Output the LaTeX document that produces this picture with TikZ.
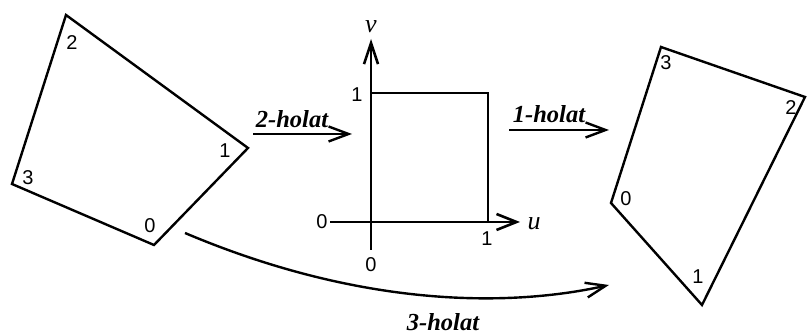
\documentclass[tikz,border=0pt]{standalone}
\usepackage{fontspec}
\setmainfont{Liberation Serif}
\newfontfamily\arialfont{Liberation Sans}
\usetikzlibrary{arrows.meta}
\tikzset{
  quad/.style={draw, line width=2.4pt, line join=miter},
  lbl/.style={inner sep=0pt, font=\arialfont\fontsize{20}{20}\selectfont},
  holat/.style={inner sep=0pt, font=\bfseries\itshape\fontsize{24.5}{24.5}\selectfont},
  axlbl/.style={inner sep=0pt, font=\itshape\fontsize{26}{26}\selectfont},
  arr/.style={-{Straight Barb[length=20pt,width=15pt]}, line width=2.4pt},
  axis/.style={line width=2.6pt},
  sq/.style={draw, line width=2.2pt}
}
\begin{document}
\begin{tikzpicture}[x=1pt,y=-1pt]
\useasboundingbox (0,0) rectangle (807,336);
% left quadrilateral
\coordinate (L0) at (154,245);
\coordinate (L1) at (248,148);
\coordinate (L2) at (66,15);
\coordinate (L3) at (12,184);
\draw[quad] (L0) -- (L1) -- (L2) -- (L3) -- cycle;
\node[lbl] (l0) at (150,226) {0};
\node[lbl] (l1) at (225,151) {1};
\node[lbl] (l2) at (72,43) {2};
\node[lbl] (l3) at (28,178) {3};
% right quadrilateral
\coordinate (R0) at (611,203);
\coordinate (R1) at (702,305);
\coordinate (R2) at (805,97);
\coordinate (R3) at (661,47);
\draw[quad] (R0) -- (R1) -- (R2) -- (R3) -- cycle;
\node[lbl] (r0) at (626,199) {0};
\node[lbl] (r1) at (698,277) {1};
\node[lbl] (r2) at (791,108) {2};
\node[lbl] (r3) at (666,63) {3};
% axes and unit square
\coordinate (vb) at (371,250);
\coordinate (vt) at (371,39);
\coordinate (ul) at (330,222);
\coordinate (ur) at (520,222);
\draw[axis, -{Straight Barb[length=21pt,width=14pt]}] (vb) -- (vt);
\draw[axis, -{Straight Barb[length=20pt,width=16pt]}] (ul) -- (ur);
\coordinate (S1) at (371,93);
\coordinate (S2) at (488,93);
\coordinate (S3) at (488,222);
\draw[sq] (S1) -- (S2) -- (S3);
\node[axlbl] (v) at (371,27) {v};
\node[axlbl] (u) at (534,224) {u};
\node[lbl] (m1) at (357,95) {1};
\node[lbl] (m0) at (322,222) {0};
\node[lbl] (m1b) at (487,239) {1};
\node[lbl] (m0b) at (371,265) {0};
% transformation arrows
\coordinate (a2s) at (253,134);
\coordinate (a2e) at (352,134);
\draw[arr] (a2s) -- (a2e);
\node[holat] (h2) at (292,119) {2-holat};
\coordinate (a1s) at (509,130);
\coordinate (a1e) at (609,130);
\draw[arr] (a1s) -- (a1e);
\node[holat] (h1) at (549,114) {1-holat};
\coordinate (a3s) at (185,233);
\coordinate (a3e) at (609,285);
\draw[arr] (a3s) .. controls (367,310) and (515,306) .. (a3e);
\node[holat] (h3) at (443,322) {3-holat};
\end{tikzpicture}
\end{document}
